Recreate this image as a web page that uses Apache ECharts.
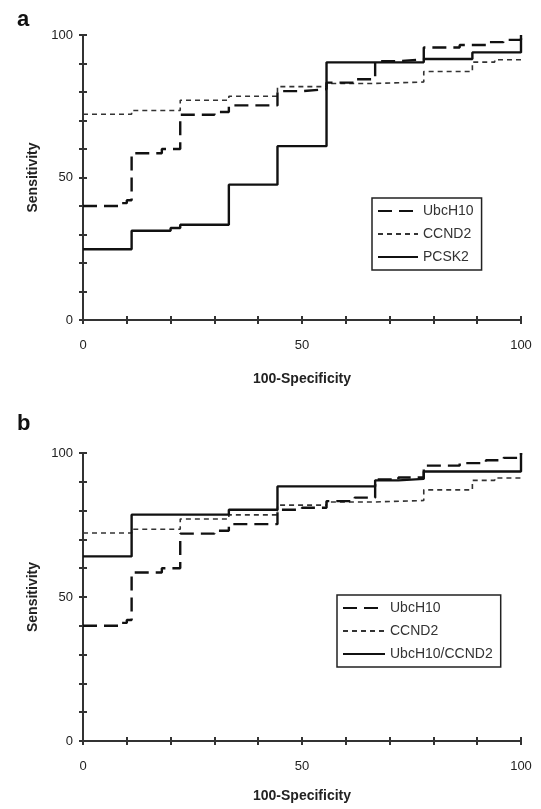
<!DOCTYPE html>
<html>
<head>
<meta charset="utf-8">
<script src="https://cdn.jsdelivr.net/npm/echarts@6/dist/echarts.min.js"></script>
<style>html,body{margin:0;padding:0;background:#fff;}#c{width:541px;height:809px;}</style>
</head>
<body>
<div id="c"></div>
<script>
// Step points: [100-specificity, sensitivity level starting at that x]
const ubcH10 = [[0,40],[8,41],[10,42],[11.1,58.5],[18,60],[22.2,72],[30,73],[33.3,75.3],[44.4,80.3],[50,81],[55.6,83.3],[62,84.5],[66.7,90.8],[72,91.5],[77.8,95.6],[86,96.5],[92,97.5],[96,98.3],[100,100]];
const ccnd2 = [[0,72.2],[11.1,73.5],[22.2,77.1],[33.3,78.5],[44.4,81.9],[55.6,83],[66.7,83.5],[77.8,87.2],[88.9,90.5],[94,91.3],[100,92]];
const pcsk2 = [[0,24.8],[11.1,31.3],[20,32.3],[22.2,33.4],[33.3,47.5],[44.4,61],[55.6,90.4],[77.8,91.6],[88.9,93.9],[100,100]];
const combo = [[0,64.1],[11.1,78.6],[33.3,80.3],[44.4,88.4],[66.7,90.5],[72,91],[77.8,93.6],[100,100]];
const namesA = ['UbcH10','CCND2','PCSK2'];
const namesB = ['UbcH10','CCND2','UbcH10/CCND2'];
const labelTicks = [0,50,100];

const FONT = 'Liberation Sans, Arial, sans-serif';
const styles = {
  'UbcH10': {color:'#111', width:2.4, type:[14,7]},
  'CCND2': {color:'#333', width:1.6, type:[5,4]},
  'PCSK2': {color:'#111', width:2.4, type:'solid'},
  'UbcH10/CCND2': {color:'#111', width:2.4, type:'solid'}
};

function mainAxis(gridIndex, isX, nameGap) {
  return {
    type:'value', gridIndex, min:0, max:100, interval:10,
    position: isX ? 'bottom' : 'left',
    name: isX ? '100-Specificity' : 'Sensitivity',
    nameLocation:'middle', nameGap,
    nameTextStyle:{fontFamily:FONT, fontSize:14, fontWeight:'bold', color:'#222'},
    axisLine:{show:true, onZero:false, lineStyle:{color:'#333', width:2}},
    axisTick:{show:true, inside:false, length:4, lineStyle:{color:'#333', width:2}},
    axisLabel:{show:true, margin: isX ? 19 : 10, fontFamily:FONT, fontSize:13, color:'#222',
      formatter: v => labelTicks.indexOf(v) >= 0 ? String(v) : ''},
    splitLine:{show:false}
  };
}
function overlayAxis(gridIndex, isX) {
  return {
    type:'value', gridIndex, min:0, max:100, interval:10,
    position: isX ? 'bottom' : 'left',
    axisLine:{show:false, onZero:false},
    axisTick:{show:true, inside:true, length:4, lineStyle:{color:'#333', width:2}},
    axisLabel:{show:false}, splitLine:{show:false}
  };
}
function mkSeries(name, data, idx) {
  const s = styles[name];
  return {
    name, type:'line', data, step:'end', xAxisIndex:idx, yAxisIndex:idx,
    symbol:'none', showSymbol:false, animation:false, z: name==='CCND2'?3:4,
    lineStyle:{color:s.color, width:s.width, type:s.type},
    itemStyle:{color:s.color}
  };
}
function mkLegend(names, left, top, itemWidth) {
  return {
    data: names, orient:'vertical', left, top,
    itemWidth, itemHeight:14, itemGap:9,
    padding:[6,8,6,5],
    borderColor:'#222', borderWidth:1.5, borderRadius:0,
    backgroundColor:'#fff',
    itemStyle:{opacity:0},
    textStyle:{fontFamily:FONT, fontSize:14, color:'#333'},
    selectedMode:false
  };
}

const chart = echarts.init(document.getElementById('c'), null, {renderer:'canvas'});
chart.setOption({
  animation:false,
  backgroundColor:'#fff',
  title:[
    {text:'a', left:12, top:4, textStyle:{fontFamily:FONT, fontSize:22, fontWeight:'bold', color:'#111'}},
    {text:'b', left:12, top:408, textStyle:{fontFamily:FONT, fontSize:22, fontWeight:'bold', color:'#111'}}
  ],
  grid:[
    {left:83, top:35, width:438, height:285},
    {left:83, top:453, width:438, height:288}
  ],
  xAxis:[ mainAxis(0,true,52), mainAxis(1,true,48), overlayAxis(0,true), overlayAxis(1,true) ],
  yAxis:[ mainAxis(0,false,43), mainAxis(1,false,43), overlayAxis(0,false), overlayAxis(1,false) ],
  legend:[ mkLegend(namesA, 372, 198, 40), mkLegend(namesB, 337, 595, 42) ],
  series:[
    mkSeries('UbcH10', ubcH10, 0),
    mkSeries('CCND2', ccnd2, 0),
    mkSeries('PCSK2', pcsk2, 0),
    mkSeries('UbcH10', ubcH10, 1),
    mkSeries('CCND2', ccnd2, 1),
    mkSeries('UbcH10/CCND2', combo, 1)
  ]
});
</script>
</body>
</html>
